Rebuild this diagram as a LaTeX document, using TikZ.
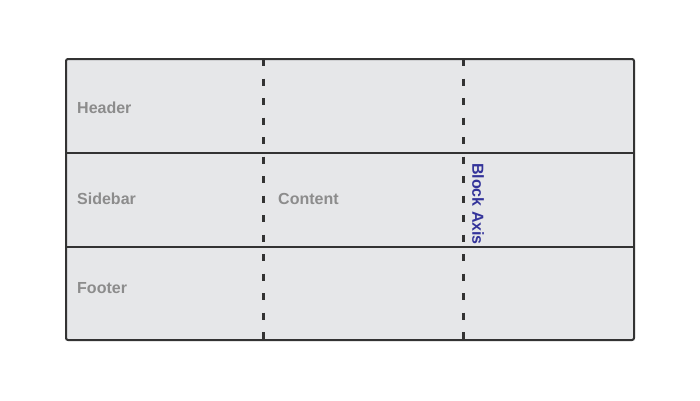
\documentclass[tikz,border=0pt]{standalone}
\usepackage{fontspec}
\setmainfont{Liberation Sans}
\definecolor{cellfill}{HTML}{E6E7E9}
\definecolor{edgecol}{HTML}{333333}
\definecolor{labgrey}{HTML}{8C8C8C}
\definecolor{axisblue}{HTML}{33339A}
\tikzset{
  cell/.style={draw=edgecol, fill=cellfill, line width=2pt},
  axisline/.style={draw=edgecol, line width=3pt, dash pattern=on 7pt off 12.5pt},
  lab/.style={font=\fontsize{16}{19}\selectfont\bfseries, text=labgrey, anchor=west, inner sep=0pt},
  axislab/.style={font=\fontsize{16}{19}\selectfont\bfseries, text=axisblue, rotate=-90, inner sep=0pt}
}
\begin{document}
\begin{tikzpicture}[x=1pt,y=-1pt]
\useasboundingbox (0,0) rectangle (700,400);
\fill[white] (0,0) rectangle (700,400);
\draw[cell, rounded corners=2pt] (66,59) rectangle (634,340);
\coordinate (r1l) at (66,153); \coordinate (r1r) at (634,153);
\coordinate (r2l) at (66,247); \coordinate (r2r) at (634,247);
\draw[edgecol, line width=2pt] (r1l) -- (r1r);
\draw[edgecol, line width=2pt] (r2l) -- (r2r);
\coordinate (a1t) at (263,59); \coordinate (a1b) at (263,340);
\coordinate (a2t) at (463,59); \coordinate (a2b) at (463,340);
\draw[axisline] (a1t) -- (a1b);
\draw[axisline] (a2t) -- (a2b);
\node[lab] (header) at (77,107.5) {Header};
\node[lab] (sidebar) at (77,198.5) {Sidebar};
\node[lab] (content) at (278,198.5) {Content};
\node[lab] (footer) at (77,288.5) {Footer};
\node[axislab] (axis) at (478,204) {Block Axis};
\end{tikzpicture}
\end{document}
